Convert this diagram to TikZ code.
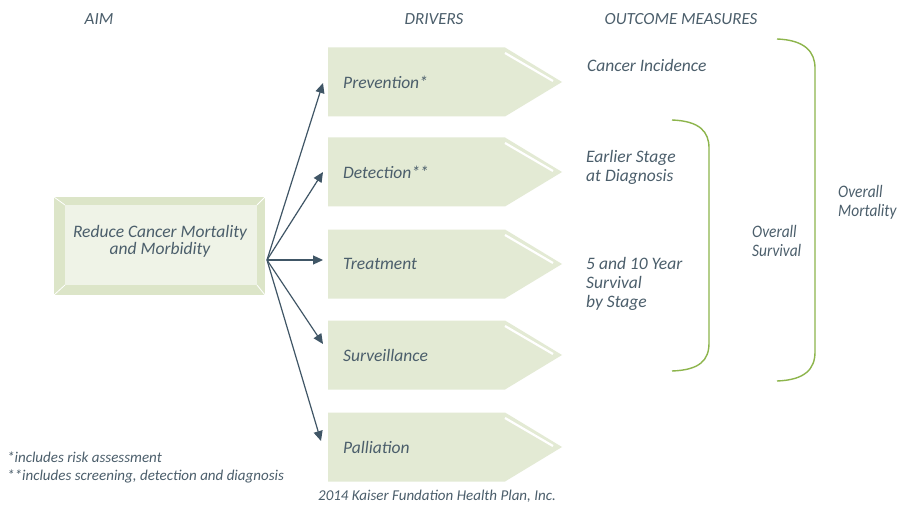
\documentclass[tikz,border=0pt]{standalone}
\usepackage{fontspec}
\setmainfont{Carlito}
\newfontfamily\condfont[FakeStretch=0.88]{Carlito}
\usetikzlibrary{arrows.meta}
\definecolor{txt}{HTML}{4B5E6B}
\definecolor{drvfill}{HTML}{E3EAD4}
\definecolor{aimout}{HTML}{DCE5C8}
\definecolor{aimin}{HTML}{EFF3E7}
\definecolor{brk}{HTML}{8DB54C}
\definecolor{arr}{HTML}{405666}
\tikzset{
  lbl/.style={font=\itshape\fontsize{17.5}{17}\selectfont, text=txt, inner sep=0pt},
  hdr/.style={font=\itshape\fontsize{17}{18}\selectfont, text=txt, inner sep=0pt},
  note/.style={font=\itshape\fontsize{15}{19}\selectfont, text=txt, inner sep=0pt, align=left},
  outc/.style={lbl, align=left, anchor=west, font=\itshape\fontsize{17.5}{18.7}\selectfont},
  outcc/.style={outc, font=\condfont\itshape\fontsize{17.5}{18.7}\selectfont},
  conn/.style={draw=arr, line width=1.2pt, -{Triangle[length=10pt,width=9pt]}},
  bracket/.style={draw=brk, line width=1.4pt},
}
\begin{document}
\begin{tikzpicture}[x=1pt,y=-1pt]
\useasboundingbox (0,0) rectangle (899,505);
\fill[white] (0,0) rectangle (899,505);
% headers
\node[hdr] (haim) at (99,19) {AIM};
\node[hdr] (hdrv) at (434,19) {DRIVERS};
\node[hdr] (hout) at (681,19) {OUTCOME MEASURES};
% aim box
\fill[aimout] (54,197) rectangle (265,295);
\fill[aimin] (65,205) rectangle (257,285);
\draw[white, line width=0.8pt] (54,197) -- (65,205) (265,197) -- (257,205) (54,295) -- (65,285) (265,295) -- (257,285);
\node[lbl, align=center] (aim) at (160,241.5) {Reduce Cancer Mortality\\and Morbidity};
\coordinate (hub) at (267,260);
% drivers
\foreach \n/\yc/\t in {prev/82/Prevention*, det/172/Detection**, treat/264/Treatment, surv/355/Surveillance, pall/447/Palliation}{
  \fill[drvfill] (328,\yc-34.5) -- (505,\yc-34.5) -- (562,\yc) -- (505,\yc+34.5) -- (328,\yc+34.5) -- cycle;
  \draw[white, line width=2.2pt] (505,\yc-29) -- (553,\yc-1);
  \coordinate (\n L) at (328,\yc);
  \node[lbl, anchor=west] (\n) at (343,\yc) {\t};
}
\coordinate (prevT) at (323,83);
\coordinate (detT) at (323,172);
\coordinate (treatT) at (323,260);
\coordinate (survT) at (323,344);
\coordinate (pallT) at (321,441);
\foreach \n in {prev,det,treat,surv,pall}{
  \draw[conn] (hub) -- (\n T);
}
% outcomes
\node[outc] (inc) at (587,65) {Cancer Incidence};
\node[outc] (early) at (586,167.5) {Earlier Stage\\at Diagnosis};
\node[outc] (five) at (586,284) {5 and 10 Year\\Survival\\by Stage};
\node[outcc] (osurv) at (752,241) {Overall\\Survival};
\node[outcc] (omort) at (838,202) {Overall\\Mortality};
% brackets
\draw[bracket] (672,120) .. controls (700,121) and (709,132) .. (709,148) -- (709,343) .. controls (709,360) and (700,370) .. (672,371);
\draw[bracket] (777,39) .. controls (805,40) and (815,52) .. (815,68) -- (815,352) .. controls (815,369) and (805,380) .. (777,381);
% notes
\node[note, anchor=west] (n1) at (7,457) {*includes risk assessment};
\node[note, anchor=west] (n2) at (7,476) {**includes screening, detection and diagnosis};
\node[note] (copy) at (437,496) {2014 Kaiser Fundation Health Plan, Inc.};
\end{tikzpicture}
\end{document}
